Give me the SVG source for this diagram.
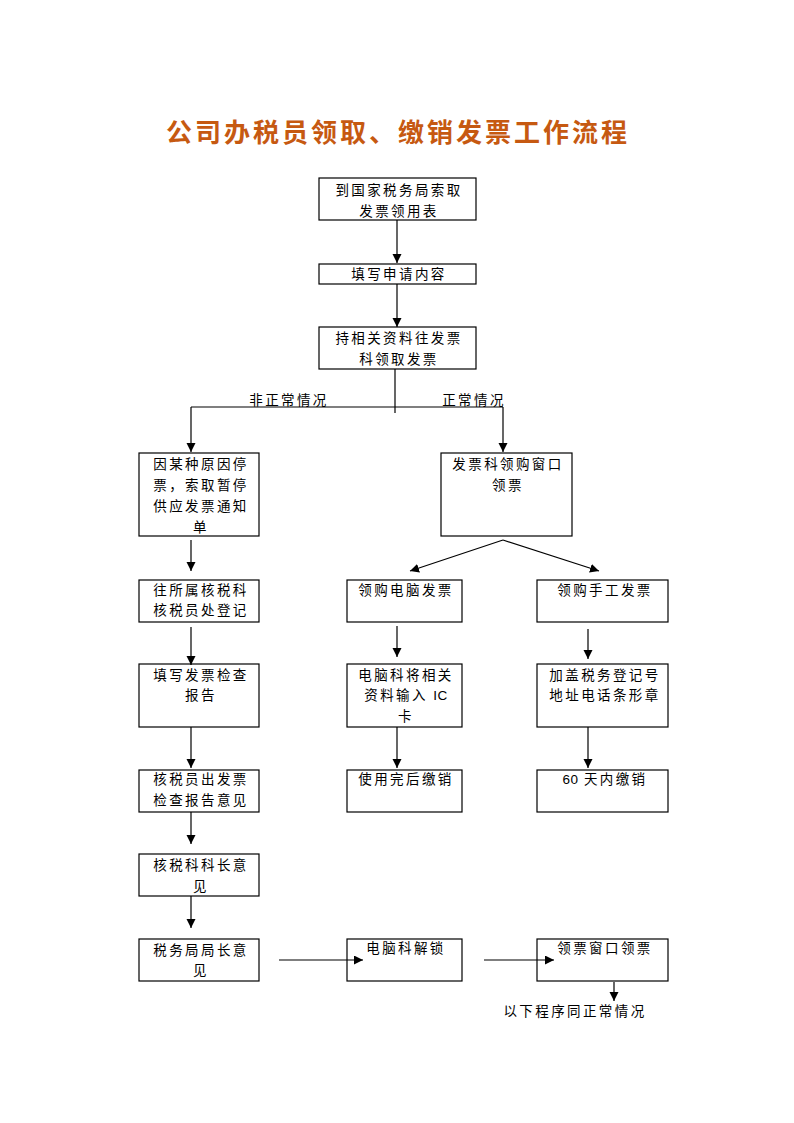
<svg xmlns="http://www.w3.org/2000/svg" width="794" height="1123" viewBox="0 0 794 1123">
<defs>
<style>
.bg{fill:#fff}
.box{fill:#fff;stroke:#000;stroke-width:1.2}
.t{font-family:"Noto Sans CJK SC","Liberation Serif",sans-serif;font-size:13.5px;letter-spacing:2.4px;fill:#000;text-anchor:middle}
.lat{font-family:"Liberation Sans",sans-serif;letter-spacing:0.5px}
.title{font-family:"Noto Sans CJK SC","Liberation Sans",sans-serif;font-size:26px;font-weight:bold;letter-spacing:3px;fill:#C65911;text-anchor:middle}
.c{fill:none;stroke:#000;stroke-width:1.2}
.a{fill:none;stroke:#000;stroke-width:1.2;marker-end:url(#ah)}
</style>
<marker id="ah" markerUnits="userSpaceOnUse" markerWidth="10" markerHeight="10" refX="9" refY="4.5" orient="auto">
<path d="M0,0 L9,4.5 L0,9 z" fill="#000"/>
</marker>
</defs>
<rect class="bg" x="0" y="0" width="794" height="1123"/>
<text class="title" x="398" y="142">公司办税员领取、缴销发票工作流程</text>

<g id="n1"><rect class="box" x="319" y="178" width="157" height="42"/>
<text class="t" x="399" y="195">到国家税务局索取</text><text class="t" x="399" y="216">发票领用表</text></g>
<g id="n2"><rect class="box" x="319" y="264" width="157" height="20"/>
<text class="t" x="399" y="279">填写申请内容</text></g>
<g id="n3"><rect class="box" x="319" y="327" width="157" height="42"/>
<text class="t" x="399" y="343">持相关资料往发票</text><text class="t" x="399" y="364">科领取发票</text></g>

<g id="lbl1"><text class="t" x="289" y="405">非正常情况</text></g>
<g id="lbl2"><text class="t" x="474" y="405">正常情况</text></g>

<g id="a1"><rect class="box" x="139" y="453" width="120" height="83"/>
<text class="t" x="201" y="469">因某种原因停</text><text class="t" x="201" y="490">票，索取暂停</text><text class="t" x="201" y="511">供应发票通知</text><text class="t" x="201" y="532">单</text></g>
<g id="b1"><rect class="box" x="441" y="453" width="131" height="83"/>
<text class="t" x="508" y="469">发票科领购窗口</text><text class="t" x="508" y="490">领票</text></g>

<g id="a2"><rect class="box" x="139" y="580" width="120" height="42"/>
<text class="t" x="201" y="595">往所属核税科</text><text class="t" x="201" y="615">核税员处登记</text></g>
<g id="m2"><rect class="box" x="347" y="580" width="115" height="42"/>
<text class="t" x="406" y="595">领购电脑发票</text></g>
<g id="r2"><rect class="box" x="537" y="580" width="131" height="42"/>
<text class="t" x="605" y="595">领购手工发票</text></g>

<g id="a3"><rect class="box" x="139" y="664" width="120" height="63"/>
<text class="t" x="201" y="680">填写发票检查</text><text class="t" x="201" y="700">报告</text></g>
<g id="m3"><rect class="box" x="347" y="664" width="115" height="63"/>
<text class="t" x="406" y="680">电脑科将相关</text><text class="t" x="406" y="700">资料输入 <tspan class="lat">IC</tspan></text><text class="t" x="406" y="721">卡</text></g>
<g id="r3"><rect class="box" x="537" y="664" width="131" height="63"/>
<text class="t" x="605" y="680">加盖税务登记号</text><text class="t" x="605" y="700">地址电话条形章</text></g>

<g id="a4"><rect class="box" x="139" y="770" width="120" height="42"/>
<text class="t" x="201" y="784">核税员出发票</text><text class="t" x="201" y="805">检查报告意见</text></g>
<g id="m4"><rect class="box" x="347" y="770" width="115" height="42"/>
<text class="t" x="406" y="784">使用完后缴销</text></g>
<g id="r4"><rect class="box" x="537" y="770" width="131" height="42"/>
<text class="t" x="605" y="784"><tspan class="lat">60</tspan> 天内缴销</text></g>

<g id="a5"><rect class="box" x="139" y="854" width="120" height="42"/>
<text class="t" x="201" y="870">核税科科长意</text><text class="t" x="201" y="891">见</text></g>

<g id="a6"><rect class="box" x="139" y="939" width="120" height="42"/>
<text class="t" x="201" y="955">税务局局长意</text><text class="t" x="201" y="975">见</text></g>
<g id="m6"><rect class="box" x="347" y="939" width="115" height="42"/>
<text class="t" x="406" y="953">电脑科解锁</text></g>
<g id="r6"><rect class="box" x="537" y="939" width="131" height="42"/>
<text class="t" x="605" y="953">领票窗口领票</text></g>

<g id="lbl3"><text class="t" x="575" y="1016">以下程序同正常情况</text></g>

<g id="connectors">
<line class="a" x1="397" y1="220" x2="397" y2="263"/>
<line class="a" x1="397" y1="284" x2="397" y2="327"/>
<line class="c" x1="395" y1="369" x2="395" y2="413"/>
<line class="c" x1="191" y1="407" x2="503" y2="407"/>
<line class="a" x1="191" y1="407" x2="191" y2="452"/>
<line class="a" x1="503" y1="407" x2="503" y2="452"/>
<line class="a" x1="503" y1="540" x2="410" y2="571"/>
<line class="a" x1="503" y1="540" x2="599" y2="571"/>
<line class="a" x1="191" y1="540" x2="191" y2="571"/>
<line class="a" x1="191" y1="627" x2="191" y2="665"/>
<line class="a" x1="191" y1="727" x2="191" y2="768"/>
<line class="a" x1="191" y1="812" x2="191" y2="844"/>
<line class="a" x1="191" y1="896" x2="191" y2="928"/>
<line class="a" x1="397" y1="626" x2="397" y2="657"/>
<line class="a" x1="397" y1="727" x2="397" y2="768"/>
<line class="a" x1="588" y1="629" x2="588" y2="659"/>
<line class="a" x1="588" y1="727" x2="588" y2="768"/>
<line class="a" x1="279" y1="960" x2="363" y2="960"/>
<line class="a" x1="484" y1="960" x2="554" y2="960"/>
<line class="a" x1="614" y1="982" x2="614" y2="1001"/>
</g>
</svg>
